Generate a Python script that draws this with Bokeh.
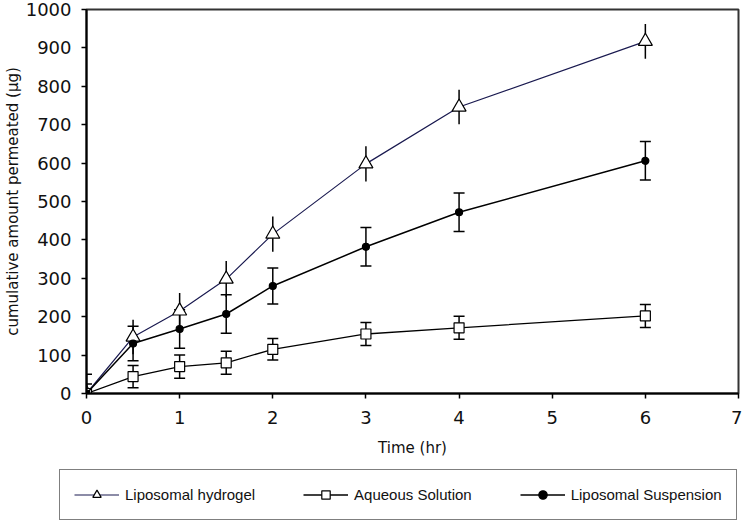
from bokeh.plotting import figure
from bokeh.models import Range1d, Legend, LegendItem, FixedTicker
from bokeh.layouts import column
from bokeh.embed import file_html
from bokeh.resources import INLINE

# ---- data ----
time_hr = [0, 0.5, 1, 1.5, 2, 3, 4, 6]
hydrogel = [0, 147, 215, 298, 415, 598, 746, 917]
hydrogel_err = [0, 45, 47, 47, 46, 46, 45, 45]
aqueous = [0, 44, 70, 80, 115, 155, 171, 202]
aqueous_err = [25, 29, 30, 30, 28, 30, 30, 30]
suspension = [0, 130, 168, 207, 280, 382, 472, 606]
suspension_err = [50, 45, 50, 50, 47, 50, 50, 50]

x_ticks = [0, 1, 2, 3, 4, 5, 6, 7]
y_ticks = [0, 100, 200, 300, 400, 500, 600, 700, 800, 900, 1000]

names = ["Liposomal hydrogel", "Aqueous Solution", "Liposomal Suspension"]

styles = [
    dict(line_color="#1a1a50", line_width=1.2, marker="triangle", size=14,
         fill_color="white", mline="black"),
    dict(line_color="black", line_width=1.3, marker="square", size=10,
         fill_color="white", mline="black"),
    dict(line_color="black", line_width=1.5, marker="circle", size=7,
         fill_color="black", mline="black"),
]

W = 742
LEFT = 86
p = figure(width=W, height=464, x_range=Range1d(0, 7), y_range=Range1d(0, 1000),
           output_backend="svg", toolbar_location=None,
           min_border_left=LEFT, min_border_right=4, min_border_top=9, min_border_bottom=71)

p.grid.visible = False
p.outline_line_color = "#333333"
p.outline_line_width = 2
p.background_fill_color = "white"
p.border_fill_color = "white"

p.xaxis.ticker = FixedTicker(ticks=x_ticks)
p.yaxis.ticker = FixedTicker(ticks=y_ticks)
for ax in (p.xaxis, p.yaxis):
    ax.axis_line_width = 2
    ax.axis_line_color = "black"
    ax.major_tick_line_color = "black"
    ax.major_tick_line_width = 1.5
    ax.major_tick_out = 5
    ax.major_tick_in = 0
    ax.minor_tick_line_color = None
    ax.major_label_text_font = "DejaVu Sans"
    ax.major_label_text_font_size = "18px"
    ax.major_label_text_color = "#111111"
    ax.axis_label_text_font = "DejaVu Sans"
    ax.axis_label_text_font_size = "15px"
    ax.axis_label_text_font_style = "normal"
    ax.axis_label_text_color = "#111111"

p.xaxis.axis_label = "Time (hr)"
p.yaxis.axis_label = "cumulative amount permeated (\u00b5g)"
p.xaxis.major_label_standoff = 12
p.xaxis.axis_label_standoff = 12
p.yaxis.major_label_standoff = 10
p.yaxis.axis_label_standoff = 1


def errbars(x, y, e, caps):
    lo = [v - d for v, d in zip(y, e)]
    hi = [v + d for v, d in zip(y, e)]
    p.segment(x0=x, y0=lo, x1=x, y1=hi, line_color="black", line_width=1.5)
    if caps:
        p.scatter(x=x + x, y=lo + hi, marker="dash", size=11, line_color="black", line_width=1.5)


series = [hydrogel, aqueous, suspension]
errs = [hydrogel_err, aqueous_err, suspension_err]
caps = [False, True, True]

for ys, es, c in zip(series, errs, caps):
    errbars(time_hr, ys, es, c)

for ys, st in zip(series, styles):
    p.line(time_hr, ys, line_color=st["line_color"], line_width=st["line_width"])
    p.scatter(time_hr, ys, marker=st["marker"], size=st["size"], fill_color=st["fill_color"],
              line_color=st["mline"], line_width=1.2)

# ---- legend strip below (its data lie outside its view, only the legend shows) ----
q = figure(width=W, height=58, x_range=Range1d(100, 101), y_range=Range1d(100, 101),
           output_backend="svg", toolbar_location=None,
           x_axis_type=None, y_axis_type=None, min_border=0)
q.grid.visible = False
q.outline_line_color = None
q.background_fill_color = "white"
q.border_fill_color = "white"

for fig in (p, q):
    try:
        fig.frame_align = False
    except AttributeError:
        pass

items = []
for name, ys, st in zip(names, series, styles):
    lr = q.line(time_hr, ys, line_color=st["line_color"], line_width=st["line_width"])
    sr = q.scatter(time_hr, ys, marker=st["marker"], size=st["size"], fill_color=st["fill_color"],
                   line_color=st["mline"], line_width=1.2)
    items.append(LegendItem(label=name, renderers=[lr, sr]))

legend = Legend(items=items, orientation="horizontal", location=(59, 2),
                label_text_font="Liberation Sans", label_text_font_size="15px",
                label_text_color="#111111",
                glyph_width=45, glyph_height=21, label_height=21, label_standoff=6, spacing=48,
                padding=14, margin=0,
                border_line_color="black", border_line_width=1.5,
                background_fill_color="white")
q.add_layout(legend, "center")

layout = column(p, q, spacing=0)
open("out.html", "w").write(file_html(layout, INLINE))
